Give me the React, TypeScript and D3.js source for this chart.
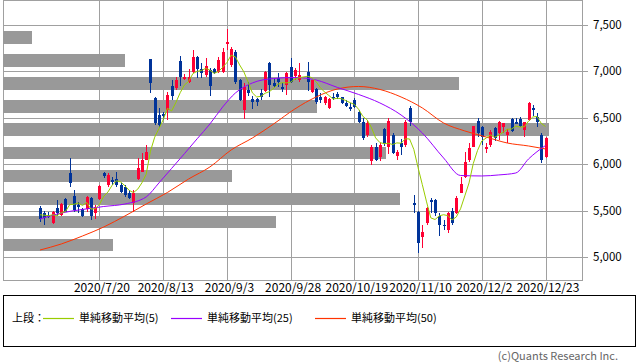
import React from "react";
import * as d3 from "d3";

// ---- data ----
const dates = [
  "2020/6/30","2020/7/1","2020/7/2","2020/7/3","2020/7/6","2020/7/7","2020/7/8","2020/7/9","2020/7/10","2020/7/13",
  "2020/7/14","2020/7/15","2020/7/16","2020/7/17","2020/7/20","2020/7/21","2020/7/22","2020/7/27","2020/7/28","2020/7/29",
  "2020/7/30","2020/7/31","2020/8/3","2020/8/4","2020/8/5","2020/8/6","2020/8/7","2020/8/11","2020/8/12","2020/8/13",
  "2020/8/14","2020/8/17","2020/8/18","2020/8/19","2020/8/20","2020/8/21","2020/8/24","2020/8/25","2020/8/26","2020/8/27",
  "2020/8/28","2020/8/31","2020/9/1","2020/9/2","2020/9/3","2020/9/4","2020/9/7","2020/9/8","2020/9/9","2020/9/10",
  "2020/9/11","2020/9/14","2020/9/15","2020/9/16","2020/9/17","2020/9/18","2020/9/23","2020/9/24","2020/9/25","2020/9/28",
  "2020/9/29","2020/9/30","2020/10/1","2020/10/2","2020/10/5","2020/10/6","2020/10/7","2020/10/8","2020/10/9","2020/10/12",
  "2020/10/13","2020/10/14","2020/10/15","2020/10/16","2020/10/19","2020/10/20","2020/10/21","2020/10/22","2020/10/23","2020/10/26",
  "2020/10/27","2020/10/28","2020/10/29","2020/10/30","2020/11/2","2020/11/4","2020/11/5","2020/11/6","2020/11/9","2020/11/10",
  "2020/11/11","2020/11/12","2020/11/13","2020/11/16","2020/11/17","2020/11/18","2020/11/19","2020/11/20","2020/11/24","2020/11/25",
  "2020/11/26","2020/11/27","2020/11/30","2020/12/1","2020/12/2","2020/12/3","2020/12/4","2020/12/7","2020/12/8","2020/12/9",
  "2020/12/10","2020/12/11","2020/12/14","2020/12/15","2020/12/16","2020/12/17","2020/12/18","2020/12/21","2020/12/22","2020/12/23",
];

const opens = [
  5528,5474,5453,5366,5528,5453,5622,5905,5657,5560,
  5517,5517,5636,5474,5625,5905,5776,5830,5841,5776,
  5754,5690,5582,5841,5916,6045,7134,6713,6530,6540,
  6584,6843,6821,7112,6918,6886,6994,7155,7026,6961,
  7015,7026,6994,6994,7295,7069,7209,6907,6584,6800,
  6703,6703,6767,6792,7094,6875,6932,6835,6853,7051,
  6950,6907,null,6994,6778,6810,6727,6659,6606,6727,
  6756,6721,6659,6620,6692,6566,6455,6315,6038,6189,
  6078,6379,6189,6315,6088,6228,6207,6606,5577,5488,
  5219,5366,5614,5614,5442,5345,5291,5499,5478,5693,
  5859,6045,6189,6469,6404,6161,6207,6390,6333,6404,
  6315,6484,6458,6484,6369,6476,6602,6512,6315,6081,
];
const highs = [
  5550,5500,5485,5500,5614,5582,5636,6067,5722,5590,
  5528,5657,5647,5560,5776,5916,5905,5862,5916,5797,
  5776,5722,5722,6067,6121,6207,7134,6720,6606,6562,
  6778,6907,6940,7166,6972,7026,7231,7166,7090,7144,
  7037,7037,7155,7252,7457,7263,7231,6918,6875,6886,
  6735,6713,6810,7008,7105,6929,6983,6875,6997,7141,
  7033,7090,null,7101,6907,6821,6767,6735,6713,6767,
  6778,6727,6692,6656,6710,6584,6498,6466,6207,6228,
  6228,6390,6498,6336,6153,6272,6476,6627,5668,5495,
  5345,5539,5636,5625,5474,5399,5485,5528,5657,5865,
  6135,6228,6412,6498,6412,6228,6369,6404,6469,6447,
  6379,6495,6495,6506,6458,6674,6638,6555,6333,6296,
];
const lows = [
  5377,5345,5420,5355,5442,5442,5485,5754,5485,5474,
  5431,5485,5399,5409,5614,5851,5754,5776,5754,5690,
  5647,5625,5485,5830,5916,6045,6767,6422,6390,6476,
  6476,6692,6800,6843,6907,6875,6983,6929,6929,6940,
  6735,6972,6983,6983,7231,7047,6864,6681,6487,6735,
  6595,6627,6692,6781,6727,6821,6835,6781,6746,6872,
  6907,6889,null,6789,6767,6649,6659,6638,6595,6692,
  6703,6649,6617,6573,6602,6441,6261,6293,5991,6038,
  6038,6196,6110,6110,6045,6099,6185,6412,5474,5043,
  5097,5345,5474,5442,5226,5291,5262,5345,5463,5690,
  5851,6024,6182,6296,6207,6121,6189,6253,6261,6333,
  6225,6350,6433,6404,6296,6469,6519,6404,6010,6063,
];
const closes = [
  5409,5420,5431,5488,5474,5571,5488,5801,5506,5539,
  5442,5647,5442,5539,5765,5873,5884,5808,5776,5700,
  5668,5636,5690,5959,6045,6131,6875,6444,6422,6520,
  6746,6735,6907,6940,6940,6940,7155,7026,6983,7058,
  6843,6983,7123,7209,7317,7241,6886,6692,6832,6767,
  6665,6665,6727,6997,6853,6843,6889,6807,6986,6889,
  7015,6961,null,6886,6907,6673,6692,6727,6703,6710,
  6721,6663,6627,6595,6613,6458,6282,6444,6189,6045,
  6207,6218,6469,6121,6131,6189,6458,6458,5560,5148,
  5273,5528,5596,5474,5345,5334,5478,5363,5636,5787,
  6027,6175,6412,6339,6296,6182,6350,6279,6458,6444,
  6350,6361,6433,6412,6458,6656,6584,6458,6045,6279,
];

// MA5 values shown before 5 closes are available in the window
const ma5Lead = [5455, 5450, 5445, 5455];

// MA25 / MA50 read at sampled days (day index, value)
const ma25Idx = [0, 5, 10, 15, 20, 25, 28, 31, 34, 37, 40, 43, 46, 50, 55, 60, 65, 70, 75, 80, 85, 90, 95, 99, 104, 108, 112, 115, 119];
const ma25Val = [5409, 5474, 5512, 5544, 5571, 5647, 5798, 5955, 6113, 6274, 6433, 6616, 6767, 6875, 6923, 6934, 6907, 6827, 6751, 6660, 6530, 6336, 6067, 5878, 5873, 5884, 5905, 6056, 6201];
const ma50Idx = [0, 5, 10, 15, 20, 25, 30, 35, 40, 45, 50, 55, 60, 65, 70, 75, 80, 85, 90, 95, 100, 105, 110, 115, 119];
const ma50Val = [5075, 5140, 5226, 5323, 5442, 5571, 5695, 5841, 5970, 6153, 6282, 6433, 6595, 6724, 6810, 6837, 6805, 6724, 6606, 6444, 6358, 6293, 6228, 6196, 6164];

const yTicks = [5000, 5500, 6000, 6500, 7000, 7500];
const xTickIdx = [14, 29, 44, 59, 74, 89, 104, 119];

const legendPrefix = "上段：";
const legendLabels = ["単純移動平均(5)", "単純移動平均(25)", "単純移動平均(50)"];
const credit = "(c)Quants Research Inc.";

// ---- styling / layout ----
const UP = "#ff0033";
const DOWN = "#003399";
const C5 = "#99cc00";
const C25 = "#9900ff";
const C50 = "#ff3300";
const GRID = "#a0a0a0";
const MASK = "#999999";
const FONT = "'Noto Sans CJK JP', 'Noto Sans', sans-serif";

// grey masking bands over the plot (pixel layout of the reference)
const maskEnds = [32, 125, 459, 317, 549, 386, 232, 400, 276, 113];

export default function App() {
  const W = 638, H = 362;
  const L = 3, R = 582, T = 1, B = 280;
  const x = d3.scaleLinear().domain([-8.71, 127.59]).range([L, R]);
  const y = d3.scaleLinear().domain([4752, 7758]).range([B, T]);

  const valid = closes.map((c, i) => ({ c, i })).filter((d) => d.c != null) as { c: number; i: number }[];
  const ma5 = valid.map((d, k) => ({
    i: d.i,
    v: k < 4 ? ma5Lead[k] : (d3.mean(valid.slice(k - 4, k + 1), (e) => e.c) as number),
  }));
  const ma25 = ma25Idx.map((i, k) => ({ i, v: ma25Val[k] }));
  const ma50 = ma50Idx.map((i, k) => ({ i, v: ma50Val[k] }));

  const lineLin = d3.line<{ i: number; v: number }>().x((d) => x(d.i)).y((d) => y(d.v));
  const lineSmooth = d3
    .line<{ i: number; v: number }>()
    .x((d) => x(d.i))
    .y((d) => y(d.v))
    .curve(d3.curveMonotoneX);

  const legendY = 318;

  return (
    <svg
      width={W}
      height={H}
      style={{ position: "absolute", left: 0, top: 0, background: "#fff" }}
      fontFamily={FONT}
    >
      <rect x={0} y={0} width={W} height={H} fill="#fff" />
      {/* grid */}
      <g shapeRendering="crispEdges" stroke={GRID} strokeWidth={1}>
        {yTicks.map((t) => (
          <line key={"h" + t} x1={L} x2={R + 6} y1={Math.round(y(t)) + 0.5} y2={Math.round(y(t)) + 0.5} />
        ))}
        {xTickIdx.map((i) => (
          <line key={"v" + i} x1={Math.round(x(i)) + 0.5} x2={Math.round(x(i)) + 0.5} y1={T} y2={B} />
        ))}
        <rect x={L + 0.5} y={T - 0.5} width={R - L} height={B - T + 0.5} fill="none" />
      </g>
      {/* masking bands */}
      <g shapeRendering="crispEdges">
        {maskEnds.map((e, k) => (
          <rect key={"m" + k} x={L} y={31 + k * 23.1} width={e - L} height={12.5} fill={MASK} />
        ))}
      </g>
      {/* candles */}
      <g shapeRendering="crispEdges">
        {closes.map((c, i) => {
          const o = opens[i];
          if (c == null || o == null) return null;
          const cx = Math.round(x(i));
          const up = c >= o;
          const col = up ? UP : DOWN;
          const top = y(Math.max(o, c));
          const bot = y(Math.min(o, c));
          return (
            <g key={"c" + i}>
              <line x1={cx + 0.5} x2={cx + 0.5} y1={y(highs[i] as number)} y2={y(lows[i] as number)} stroke={col} strokeWidth={1} />
              <rect x={cx - 1} y={top} width={3} height={Math.max(1, bot - top)} fill={col} />
            </g>
          );
        })}
      </g>
      {/* moving averages */}
      <path d={lineSmooth(ma50) || ""} fill="none" stroke={C50} strokeWidth={1} />
      <path d={lineSmooth(ma25) || ""} fill="none" stroke={C25} strokeWidth={1} />
      <path d={lineLin(ma5) || ""} fill="none" stroke={C5} strokeWidth={1} />
      {/* y axis labels */}
      {yTicks.map((t) => (
        <text key={"yl" + t} x={593} y={y(t)} dy="0.35em" fontSize={11.5} fill="#000">
          {d3.format(",")(t)}
        </text>
      ))}
      {/* x axis labels */}
      {xTickIdx.map((i) => (
        <text key={"xl" + i} x={x(i) + 2.5} y={292} textAnchor="middle" fontSize={12} fill="#000">
          {dates[i]}
        </text>
      ))}
      {/* legend */}
      <rect x={3.5} y={295.5} width={631.5} height={50.5} fill="none" stroke="#000" strokeWidth={1} shapeRendering="crispEdges" />
      <text x={12} y={legendY} dy="0.35em" fontSize={11} fill="#000">{legendPrefix}</text>
      {[{ x0: 43, c: C5 }, { x0: 171, c: C25 }, { x0: 315, c: C50 }].map((it, k) => (
        <g key={"lg" + k}>
          <line x1={it.x0} x2={it.x0 + 31} y1={legendY + 0.5} y2={legendY + 0.5} stroke={it.c} strokeWidth={1.2} />
          <text x={it.x0 + 36} y={legendY} dy="0.35em" fontSize={11} fill="#000">{legendLabels[k]}</text>
        </g>
      ))}
      <text x={618} y={360} textAnchor="end" fontSize={11} fill="#666">{credit}</text>
    </svg>
  );
}
